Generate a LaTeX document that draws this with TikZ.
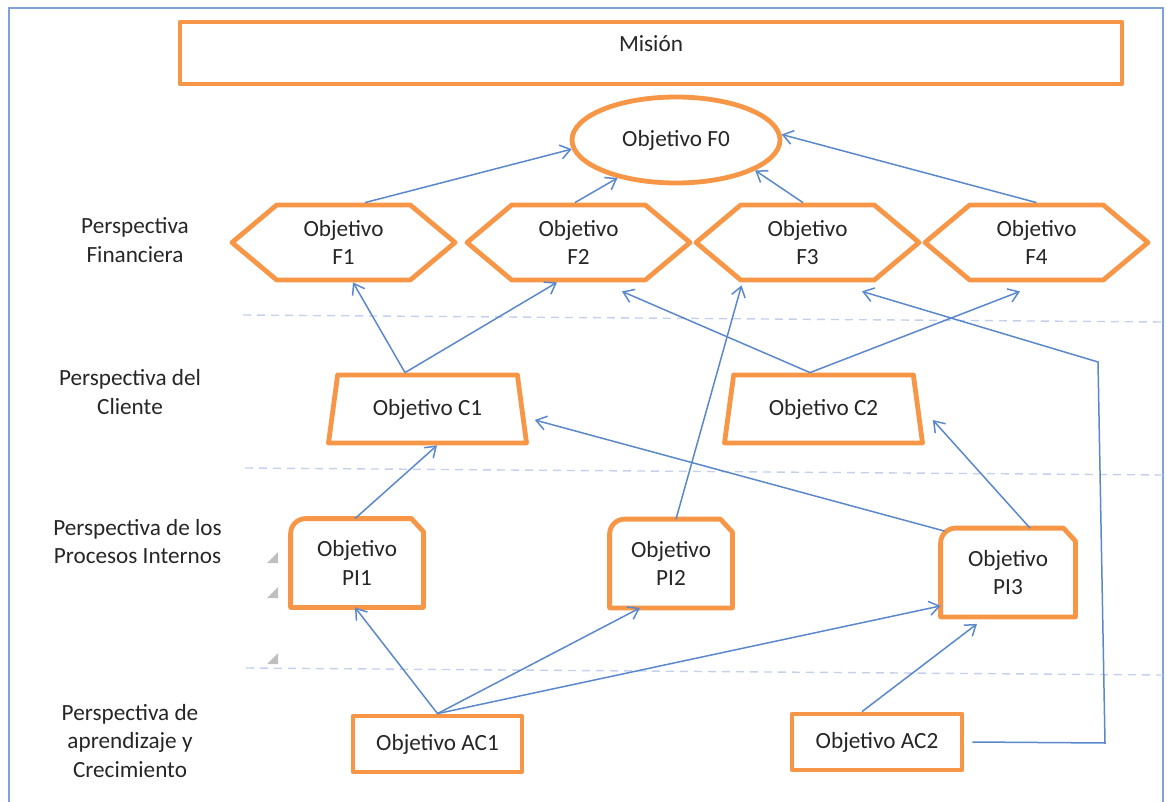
\documentclass[tikz,border=0pt]{standalone}
\usepackage{fontspec}
\setmainfont{Carlito}
\usepackage{tikz}
\usetikzlibrary{shapes.geometric,shapes.symbols,arrows.meta}
\definecolor{orng}{HTML}{F79646}
\definecolor{lnk}{HTML}{5B88CC}
\definecolor{frm}{HTML}{7FA2D8}
\definecolor{sepc}{HTML}{C3D1EC}

\begin{document}
\begin{tikzpicture}[x=0.5pt,y=0.5pt,
  font=\fontsize{11.6}{14.3}\selectfont,text=black!85,
  orline/.style={draw=orng,line width=2.4pt,line join=round},
  obj/.style={orline,fill=white,align=center,inner sep=2pt},
  hexa/.style={obj,signal,signal to=west and east,signal pointer angle=80,minimum width=111.5pt,minimum height=37.5pt},
  trap/.style={obj,trapezium,trapezium angle=78,trapezium stretches=true,minimum width=99.5pt,minimum height=34pt},
  pibox/.style={rectangle,align=center,minimum height=44pt},
  acbox/.style={obj,rectangle,minimum width=85pt,minimum height=28pt},
  link/.style={draw=lnk,line width=0.75pt,-{Straight Barb[length=5pt,width=7pt]}},
  persp/.style={align=center},
  layer/.style={draw=sepc,line width=0.7pt,dash pattern=on 4pt off 3pt},
  handle/.style={fill=black!25}]
\useasboundingbox (0,0) rectangle (1167,-802);
\draw[frm,line width=0.9pt] (9,-802) -- (9,-8) -- (1163,-8) -- (1163,-802);

\draw[layer] (243,-315) -- (1163,-322);
\draw[layer] (245,-468) -- (1163,-475);
\draw[layer] (246,-668) -- (1163,-675);

\fill[handle] (267,-563) -- (278,-563) -- (278,-552) -- cycle;
\fill[handle] (267,-598) -- (278,-598) -- (278,-587) -- cycle;
\fill[handle] (267,-664) -- (278,-664) -- (278,-653) -- cycle;

\node (pF)[persp] at (135,-240) {Perspectiva\\Financiera};
\node (pC)[persp] at (130,-392) {Perspectiva del\\Cliente};
\node (pP)[persp] at (137.5,-541.5) {Perspectiva de los\\Procesos Internos};
\node (pA)[persp] at (130,-741) {Perspectiva de\\aprendizaje y\\Crecimiento};

\node (mision)[obj,minimum width=471pt,minimum height=31pt,text depth=9pt] at (651,-53) {Misión};
\node (F0)[obj,ellipse,minimum width=104pt,minimum height=43pt] at (676,-140) {Objetivo F0};

\node (F1)[hexa] at (343.5,-242.5) {Objetivo\\F1};
\node (F2)[hexa] at (578.5,-242.5) {Objetivo\\F2};
\node (F3)[hexa] at (807.5,-242.5) {Objetivo\\F3};
\node (F4)[hexa] at (1036.5,-242.5) {Objetivo\\F4};

\node (C1)[trap] at (427.5,-409) {Objetivo C1};
\node (C2)[trap] at (823.5,-409) {Objetivo C2};

\node (PI1)[pibox,minimum width=66pt] at (357,-563) {Objetivo\\PI1};
\draw[orline] (PI1.south west) -- ([yshift=-7.5pt]PI1.north west) arc[start angle=180,end angle=90,radius=7.5pt] -- ([xshift=-6pt]PI1.north east) -- ([yshift=-6.5pt]PI1.north east) -- (PI1.south east) -- cycle;
\node (PI2)[pibox,minimum width=61pt] at (671,-563.5) {Objetivo\\PI2};
\draw[orline] (PI2.south west) -- ([yshift=-7.5pt]PI2.north west) arc[start angle=180,end angle=90,radius=7.5pt] -- ([xshift=-6pt]PI2.north east) -- ([yshift=-6.5pt]PI2.north east) -- (PI2.south east) -- cycle;
\node (PI3)[pibox,minimum width=67pt] at (1008,-572.5) {Objetivo\\PI3};
\draw[orline] (PI3.south west) -- ([yshift=-7.5pt]PI3.north west) arc[start angle=180,end angle=90,radius=7.5pt] -- ([xshift=-6pt]PI3.north east) -- ([yshift=-6.5pt]PI3.north east) -- (PI3.south east) -- cycle;

\node (AC1)[acbox,minimum width=84.5pt] at (437.5,-744) {Objetivo AC1};
\node (AC2)[acbox] at (877,-742) {Objetivo AC2};

\draw[link] ([xshift=10.75pt]F1.north) -- (F0.185);
\draw[link] ([xshift=-1.75pt]F2.north) -- (F0.213);
\draw[link] ([xshift=-2.25pt]F3.north) -- (F0.339);
\draw[link] (F4.north) -- (F0.3);

\draw[link] ([xshift=-11.25pt]C1.north) -- ([xshift=4.75pt]F1.south);
\draw[link] ([xshift=-11.25pt]C1.north) -- ([xshift=-10.75pt]F2.south);
\draw[link] ([xshift=-6.75pt]C2.north) -- ([xshift=21.75pt,yshift=-4.5pt]F2.south);
\draw[link] ([xshift=-6.75pt]C2.north) -- ([xshift=-8.25pt,yshift=-4.5pt]F4.south);
\draw[link] ([xshift=2.5pt]PI2.north) -- ([xshift=-33pt,yshift=-1.5pt]F3.south);

\coordinate (k1) at (1105,-743);
\coordinate (k2) at (1098,-362);
\draw[link] ([xshift=4pt]AC2.east) -- (k1) -- (k2) -- ([xshift=27.25pt,yshift=-4.5pt]F3.south);

\draw[link] ([xshift=-1pt]PI1.north) -- ([xshift=4.75pt]C1.south);
\draw[link] ([xshift=2pt,yshift=-1.5pt]PI3.north west) -- ([xshift=5.25pt,yshift=-5.5pt]C1.east);
\draw[link] ([xshift=11pt]PI3.north) -- ([xshift=6.25pt,yshift=-5.5pt]C2.east);

\draw[link] (AC1.north) -- ([xshift=-1pt]PI1.south);
\draw[link] (AC1.north) -- ([xshift=-15.5pt]PI2.south);
\draw[link] (AC1.north) -- ([yshift=5.5pt]PI3.south west);
\draw[link] ([xshift=-7.5pt]AC2.north) -- ([xshift=-15.5pt,yshift=-3.5pt]PI3.south);
\end{tikzpicture}
\end{document}
